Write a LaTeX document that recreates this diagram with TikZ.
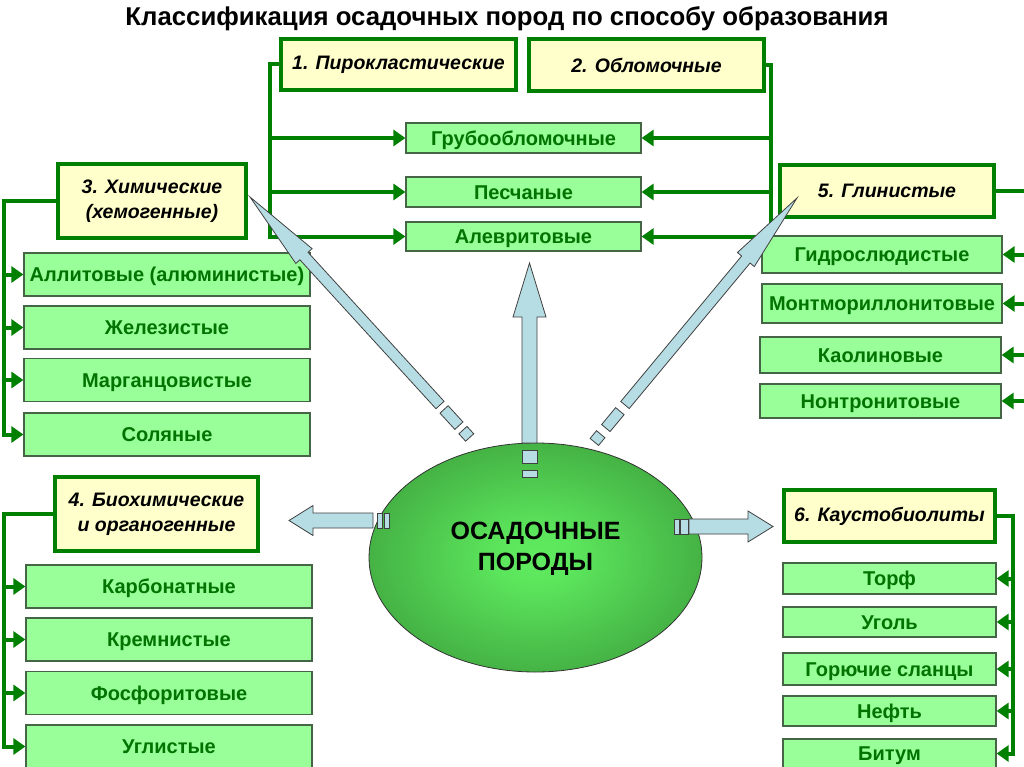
\documentclass[tikz,border=0pt]{standalone}
\usepackage{fontspec}
\setmainfont{Liberation Sans}
\usetikzlibrary{arrows.meta,shapes.geometric}
\definecolor{lgreen}{RGB}{0,128,0}
\definecolor{hdrfill}{RGB}{255,255,204}
\definecolor{subfill}{RGB}{153,255,153}
\definecolor{subtext}{RGB}{0,115,0}
\definecolor{subedge}{RGB}{70,100,70}
\definecolor{fatfill}{RGB}{183,221,228}
\pgfdeclareradialshading{ellshade}{\pgfpoint{0bp}{0bp}}{rgb(0bp)=(0.38,0.92,0.38); rgb(6bp)=(0.36,0.9,0.36); rgb(50bp)=(0.15,0.44,0.15); rgb(100bp)=(0.15,0.44,0.15)}
\pgfdeclarelayer{back}
\pgfdeclarelayer{bg}
\pgfsetlayers{back,bg,main}
\newcommand\fatarr[7]{%
 \pgfmathsetmacro\faDX{((#3)-(#1))/100}%
 \pgfmathsetmacro\faDY{((#4)-(#2))/100}%
 \pgfmathsetmacro\faL{sqrt((\faDX)*(\faDX)+(\faDY)*(\faDY))}%
 \pgfmathsetmacro\faUX{(\faDX)/(\faL)}%
 \pgfmathsetmacro\faUY{(\faDY)/(\faL)}%
 \pgfmathsetmacro\faNX{0-(\faUY)}%
 \pgfmathsetmacro\faNY{\faUX}%
 \pgfmathsetmacro\faBX{(#3)-(#7)*(\faUX)}%
 \pgfmathsetmacro\faBY{(#4)-(#7)*(\faUY)}%
 \draw[fatstyle] ({(#1)+(#5)*(\faNX)},{(#2)+(#5)*(\faNY)})
   -- ({(\faBX)+(#5)*(\faNX)},{(\faBY)+(#5)*(\faNY)})
   -- ({(\faBX)+(#6)*(\faNX)},{(\faBY)+(#6)*(\faNY)})
   -- (#3,#4)
   -- ({(\faBX)-(#6)*(\faNX)},{(\faBY)-(#6)*(\faNY)})
   -- ({(\faBX)-(#5)*(\faNX)},{(\faBY)-(#5)*(\faNY)})
   -- ({(#1)-(#5)*(\faNX)},{(#2)-(#5)*(\faNY)}) -- cycle;}
\newcommand\fatseg[7]{%
 \pgfmathsetmacro\faDX{((#1)-(#3))/100}%
 \pgfmathsetmacro\faDY{((#2)-(#4))/100}%
 \pgfmathsetmacro\faL{sqrt((\faDX)*(\faDX)+(\faDY)*(\faDY))}%
 \pgfmathsetmacro\faUX{(\faDX)/(\faL)}%
 \pgfmathsetmacro\faUY{(\faDY)/(\faL)}%
 \pgfmathsetmacro\faNX{0-(\faUY)}%
 \pgfmathsetmacro\faNY{\faUX}%
 \draw[fatstyle] ({(#1)+(#5)*(\faUX)+(#7)*(\faNX)},{(#2)+(#5)*(\faUY)+(#7)*(\faNY)})
   -- ({(#1)+(#6)*(\faUX)+(#7)*(\faNX)},{(#2)+(#6)*(\faUY)+(#7)*(\faNY)})
   -- ({(#1)+(#6)*(\faUX)-(#7)*(\faNX)},{(#2)+(#6)*(\faUY)-(#7)*(\faNY)})
   -- ({(#1)+(#5)*(\faUX)-(#7)*(\faNX)},{(#2)+(#5)*(\faUY)-(#7)*(\faNY)}) -- cycle;}
\begin{document}
\begin{tikzpicture}[x=1pt,y=-1pt,
 hdr/.style={draw=lgreen, line width=4pt, fill=hdrfill, inner sep=0pt, font=\fontsize{19.5}{25}\selectfont\bfseries\itshape, align=center},
 sub/.style={draw=subedge, line width=1.2pt, fill=subfill, inner sep=0pt, text=subtext, font=\fontsize{20}{22}\selectfont\bfseries, text height=14.4pt, text depth=0pt},
 conn/.style={draw=lgreen, line width=4pt, line cap=rect},
 arr/.style={draw=lgreen, line width=4pt, -{Triangle[length=12pt,width=16pt]}},
 fatstyle/.style={draw=black!75, line width=0.8pt, fill=fatfill, line join=miter}]
\begin{pgfonlayer}{back}
\fill[white] (0,0) rectangle (1024,767);
\end{pgfonlayer}
\useasboundingbox (0,0) rectangle (1024,767);

\node[anchor=base] (title) at (507,25.5) {\resizebox{763pt}{!}{\fontsize{22}{26}\selectfont\bfseries Классификация осадочных пород по способу образования}};

% header boxes
\node[hdr, minimum width=235, minimum height=51] (h1) at (398.5,64.5) {1. Пирокластические};
\node[hdr, minimum width=235, minimum height=52] (h2) at (646.5,65) {2. Обломочные};
\node[hdr, minimum width=188, minimum height=74] (h3) at (152,201) {3. Химические\\(хемогенные)};
\node[hdr, minimum width=214, minimum height=52] (h5) at (887,191) {5. Глинистые};
\node[hdr, minimum width=203, minimum height=74] (h4) at (156.5,514) {4. Биохимические\\и органогенные};
\node[hdr, minimum width=211, minimum height=52] (h6) at (889.5,516) {6. Каустобиолиты};

% sub boxes
\node[sub, minimum width=235, minimum height=30] (s1) at (523.5,138) {Грубообломочные};
\node[sub, minimum width=235, minimum height=30] (s2) at (523.5,192) {Песчаные};
\node[sub, minimum width=235, minimum height=29] (s3) at (523.5,236.5) {Алевритовые};

\node[sub, minimum width=286, minimum height=43] (c1) at (167,274.5) {Аллитовые (алюминистые)};
\node[sub, minimum width=286, minimum height=43] (c2) at (167,327.5) {Железистые};
\node[sub, minimum width=286, minimum height=43] (c3) at (167,380) {Марганцовистые};
\node[sub, minimum width=286, minimum height=43] (c4) at (167,434.5) {Соляные};

\node[sub, minimum width=286, minimum height=43] (b1) at (169,586.5) {Карбонатные};
\node[sub, minimum width=286, minimum height=43] (b2) at (169,639.5) {Кремнистые};
\node[sub, minimum width=286, minimum height=43] (b3) at (169,693) {Фосфоритовые};
\node[sub, minimum width=286, minimum height=43] (b4) at (169,746.5) {Углистые};

\node[sub, minimum width=240, minimum height=37] (g1) at (882,254.5) {Гидрослюдистые};
\node[sub, minimum width=240, minimum height=39] (g2) at (882,303.5) {Монтмориллонитовые};
\node[sub, minimum width=241, minimum height=36] (g3) at (880.5,355) {Каолиновые};
\node[sub, minimum width=241, minimum height=34] (g4) at (880.5,401) {Нонтронитовые};

\node[sub, minimum width=213, minimum height=31] (k1) at (889.5,578.5) {Торф};
\node[sub, minimum width=213, minimum height=30] (k2) at (889.5,622) {Уголь};
\node[sub, minimum width=213, minimum height=32] (k3) at (889.5,669) {Горючие сланцы};
\node[sub, minimum width=213, minimum height=30] (k4) at (889.5,711) {Нефть};
\node[sub, minimum width=213, minimum height=29] (k5) at (889.5,753.5) {Битум};

% bracket coordinates
\coordinate (tlb) at (270,236.5);
\coordinate (trb) at (771,236.5);
\coordinate (clb) at (4,434.5);
\coordinate (blb) at (4,746.5);
\coordinate (crb) at (1030,401);
\coordinate (krb) at (1012.5,753.5);

\begin{pgfonlayer}{bg}
\draw[conn] (h1.west) -| (tlb);
\draw[conn] (h2.east) -| (trb);
\draw[conn] (h3.west) -| (clb);
\draw[conn] (h4.west) -| (blb);
\draw[conn] (h5.east) -- (h5.east -| crb);
\draw[conn] (h6.east) -| (krb);
\foreach \n in {s1,s2,s3} {\draw[arr] (\n.west -| tlb) -- (\n.west); \draw[arr] (\n.east -| trb) -- (\n.east);}
\foreach \n in {c1,c2,c3,c4} {\draw[arr] (\n.west -| clb) -- (\n.west);}
\foreach \n in {b1,b2,b3,b4} {\draw[arr] (\n.west -| blb) -- (\n.west);}
\foreach \n in {g1,g2,g3,g4} {\draw[arr] (\n.east -| crb) -- (\n.east);}
\foreach \n in {k1,k2,k3,k4,k5} {\draw[arr] (\n.east -| krb) -- (\n.east);}
\end{pgfonlayer}

% central ellipse
\node[ellipse, draw=black!80, line width=0.8pt, shade, shading=ellshade, minimum width=333, minimum height=229, inner sep=0pt] (core) at (535.5,557.5) {};
\node[align=center, font=\fontsize{25}{31}\selectfont\bfseries, inner sep=0pt] (coretext) at (535.5,549) {ОСАДОЧНЫЕ\\ПОРОДЫ};

% fat arrows
\fatarr{529.5}{443}{529.5}{263}{7.5}{16.5}{54}
\fatseg{529.5}{443}{529.5}{263}{7}{20}{7.5}
\fatseg{529.5}{443}{529.5}{263}{27}{34}{7.5}

\fatarr{440}{405}{250}{197}{5.5}{11}{80}
\fatseg{440}{405}{250}{197}{6}{28}{5.5}
\fatseg{440}{405}{250}{197}{34}{44}{5.5}

\fatarr{625}{405}{797}{198}{5.5}{11}{80}
\fatseg{625}{405}{797}{198}{8}{30}{5.5}
\fatseg{625}{405}{797}{198}{38}{48}{5.5}

\fatarr{373}{520.5}{289}{520.5}{7.5}{15}{24}
\fatseg{373}{520.5}{289}{520.5}{4}{9}{7.5}
\fatseg{373}{520.5}{289}{520.5}{11}{16}{7.5}

\fatarr{689}{526.5}{773}{526.5}{7.5}{15.5}{25}
\fatseg{689}{526.5}{773}{526.5}{1}{9}{7.5}
\fatseg{689}{526.5}{773}{526.5}{10}{15}{7.5}
\end{tikzpicture}
\end{document}
